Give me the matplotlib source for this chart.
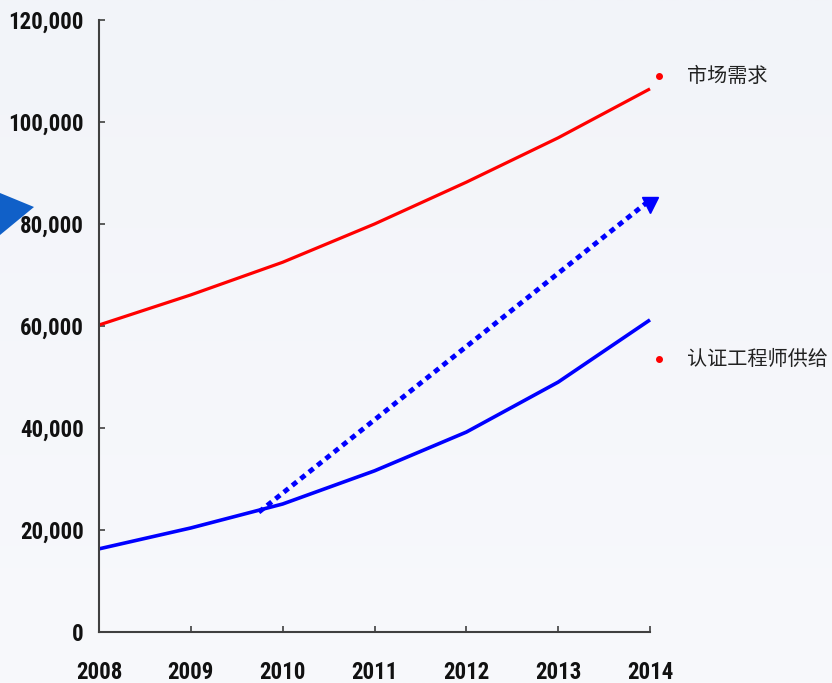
import matplotlib
matplotlib.use("Agg")
import matplotlib.pyplot as plt
import numpy as np
from matplotlib.patches import Polygon

years = [2008, 2009, 2010, 2011, 2012, 2013, 2014]
demand = [60200, 66100, 72500, 80000, 88200, 96900, 106500]
supply = [16300, 20400, 25100, 31600, 39200, 49000, 61200]
trend_x = [2009.74, 2014.0]
trend_y = [23500, 84700]
yticks = [0, 20000, 40000, 60000, 80000, 100000, 120000]
label_demand = "市场需求"
label_supply = "认证工程师供给"

fig = plt.figure(figsize=(8.32, 6.83), dpi=100)
fig.patch.set_facecolor('#f4f6fa')

# subtle background gradient
bg = fig.add_axes([0, 0, 1, 1], zorder=-10)
grad = np.linspace(0, 1, 256).reshape(-1, 1)
bg.imshow(grad, aspect='auto',
          cmap=matplotlib.colors.LinearSegmentedColormap.from_list('g', ['#f2f4f9', '#f8f9fc']),
          extent=[0, 1, 0, 1], transform=bg.transAxes)
bg.axis('off')

# blue triangle decoration at left
tri = Polygon([[0, 1 - 193/683], [34/832, 1 - 207/683], [0, 1 - 235/683]], closed=True,
              transform=fig.transFigure, facecolor='#1060c8', edgecolor='none', zorder=-5)
fig.patches.append(tri)

ax = fig.add_axes([99/832, 1 - 632/683, (650 - 99)/832, (632 - 20)/683])
ax.set_facecolor('none')

ax.plot(years, demand, color='#ff0000', lw=2.3, solid_capstyle='butt', clip_on=False)
ax.plot(years, supply, color='#0000ff', lw=2.6, solid_capstyle='butt', clip_on=False)
ax.plot(trend_x, trend_y, color='#0000ff', lw=3.5, dashes=(1.2, 1.0), clip_on=False)
ax.plot([trend_x[1]], [trend_y[1] - 1000], marker='v', color='#0000ff', markersize=11, clip_on=False)

ax.set_xlim(2008, 2014)
ax.set_ylim(0, 120000)
ax.set_xticks(years)
ax.set_yticks(yticks)
ax.set_yticklabels([f"{v:,}" for v in yticks])

for s in ['top', 'right']:
    ax.spines[s].set_visible(False)
for s in ['left', 'bottom']:
    ax.spines[s].set_color('#404040')
    ax.spines[s].set_linewidth(1.5)

ax.tick_params(axis='both', direction='in', length=4.5, width=1.2, color='#404040')
ax.tick_params(axis='x', pad=21)
ax.tick_params(axis='y', pad=11)
num_font = ['Roboto Condensed', 'Liberation Sans', 'DejaVu Sans']
for lab in ax.get_xticklabels() + ax.get_yticklabels():
    lab.set_fontfamily(num_font)
    lab.set_fontweight('bold')
    lab.set_fontsize(16.5)
    lab.set_color('#111111')

# legend-like labels
ax.plot([2014.1], [109000], marker='o', color='#ff0000', markersize=4, clip_on=False)
ax.plot([2014.1], [53500], marker='o', color='#ff0000', markersize=4, clip_on=False)
ax.text(2014.4, 109000, label_demand, fontsize=14.5, color='#222222',
        family=['Noto Sans CJK SC', 'DejaVu Sans'], va='center', ha='left', clip_on=False)
ax.text(2014.4, 53500, label_supply, fontsize=14.5, color='#222222',
        family=['Noto Sans CJK SC', 'DejaVu Sans'], va='center', ha='left', clip_on=False)

fig.savefig('out.png', dpi=100, facecolor=fig.get_facecolor())
